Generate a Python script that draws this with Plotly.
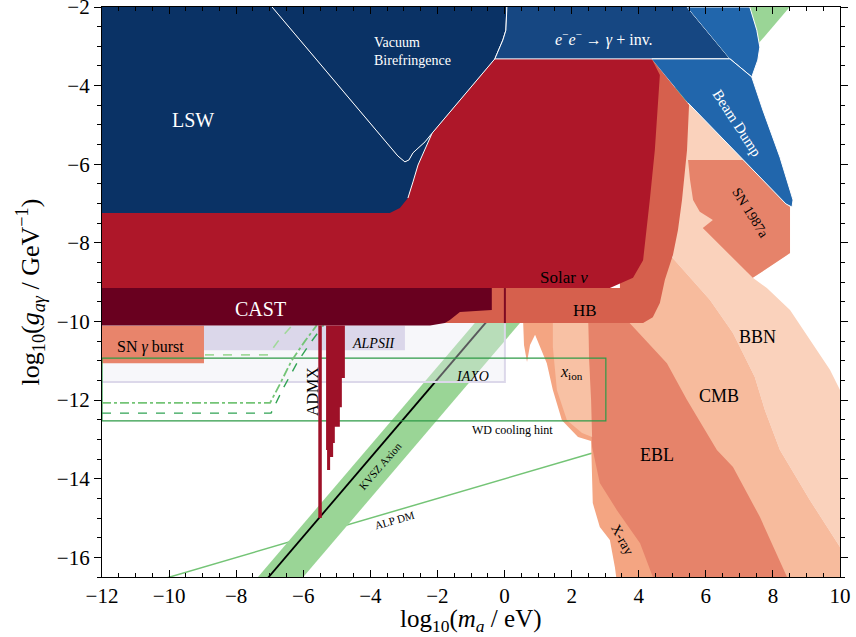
import plotly.graph_objects as go

# Axion-photon coupling limits: x = log10(m_a / eV), y = log10(g_agamma / GeV^-1)

# QCD axion band and model line
kvsz_band_m = [-7.45, 7.3, 8.7, -6.1]
kvsz_band_g = [-16.6, -1.85, -1.8, -16.6]
kvsz_line_m = [-7.1, 0.6]
kvsz_line_g = [-16.57, -8.87]

# ALP dark matter line
alpdm_m = [-10.1, 2.6]
alpdm_g = [-16.53, -13.35]

# Cosmological / astrophysical bounds
bbn_m = [5.41, 7.17, 8.51, 8.51, 7.40, 7.82, 8.51, 9.10, 9.70, 10.0, 10.6, 10.6, 10.0, 9.10, 8.21, 7.76, 7.46, 6.81, 6.12, 5.02, 4.87, 5.11, 5.35]
bbn_g = [-4.24, -5.89, -7.09, -8.26, -8.89, -9.15, -9.71, -10.47, -11.23, -11.74, -12.51, -16.58, -15.74, -14.54, -13.27, -12.25, -11.41, -10.29, -9.45, -8.39, -7.93, -6.91, -5.64]

cmb_m = [4.63, 5.02, 6.12, 6.81, 7.46, 7.76, 8.21, 9.10, 10.0, 10.6, 10.6, 5.82, 3.59, 4.04, 4.48]
cmb_g = [-7.93, -8.39, -9.45, -10.29, -11.41, -12.25, -13.27, -14.54, -15.74, -16.45, -17.09, -17.09, -10.04, -9.45, -8.44]

xray_m = [0.55, 0.58, 0.67, 0.76, 0.91, 1.06, 1.26, 1.44, 1.71, 2.19, 2.58, 2.63, 2.84, 3.14, 3.29, 3.38, 4.78, 2.84]
xray_g = [-9.91, -10.60, -11.03, -10.60, -10.34, -10.67, -11.06, -11.74, -12.51, -12.94, -13.04, -14.62, -15.23, -15.56, -16.25, -16.83, -16.83, -9.91]

ebl_m = [2.49, 2.55, 2.61, 2.84, 3.35, 4.04, 4.42, 4.48, 8.57, 8.42, 7.61, 6.81, 6.33, 5.44, 4.84, 3.59]
ebl_g = [-9.91, -12.0, -13.19, -14.11, -14.80, -15.64, -16.5, -16.83, -16.83, -16.5, -14.97, -13.70, -13.27, -12.0, -11.06, -9.91]

xion_m = [1.44, 1.44, 1.56, 1.86, 2.31, 2.61, 2.58, 2.52, 2.49]
xion_g = [-9.91, -10.65, -11.74, -12.51, -12.84, -12.94, -12.0, -10.98, -9.91]

sn1987a_m = [5.47, 7.11, 8.51, 8.51, 7.40, 6.03, 5.91, 6.21, 5.82, 5.62, 5.53]
sn1987a_g = [-5.89, -5.89, -7.09, -8.26, -8.89, -7.72, -7.62, -7.42, -7.21, -6.91, -6.40]

# Haloscope / helioscope / LSW projections
iaxo_m = [-12, 0.01, 0.01, -12]
iaxo_g = [-10.0, -10.0, -11.54, -11.54]
alpsii_m = [-12, -2.97, -2.97, -12]
alpsii_g = [-10.11, -10.11, -10.73, -10.73]
sngamma_m = [-12, -8.96, -8.96, -12]
sngamma_g = [-10.11, -10.11, -11.06, -11.06]
wd_m = [-12, 3.02, 3.02, -12, -12]
wd_g = [-10.93, -10.93, -12.53, -12.53, -10.93]

proj_a_m = [-12, -6.99, -6.7, -6.35, -5.95, -5.6]
proj_a_g = [-12.07, -12.07, -11.6, -11.0, -10.5, -10.1]
proj_b_m = [-12, -6.96, -6.6, -6.15, -5.75, -5.4]
proj_b_g = [-12.33, -12.33, -11.7, -11.0, -10.5, -10.1]
proj_c_m = [-8.93, -7.05, -6.75, -6.34]
proj_c_g = [-10.85, -10.85, -10.5, -10.11]

# Stellar and helioscope exclusions
hb_m = [-2.22, -2.22, 4.13, 4.42, 4.63, 4.78, 5.02, 5.17, 5.29, 5.44, 5.50, 4.39, 3.44, 3.44]
hb_g = [-9.15, -10.04, -10.04, -9.89, -9.53, -8.94, -8.31, -7.67, -6.91, -5.64, -4.49, -3.32, -3.32, -9.15]

solar_m = [-12, 3.14, 3.83, 4.13, 4.33, 4.48, 4.63, 4.39, -0.29, -2.16, -2.97, -12]
solar_g = [-9.15, -9.15, -8.89, -8.44, -6.91, -5.64, -3.73, -3.32, -3.32, -5.21, -6.66, -6.66]

cast_m = [-12, -0.38, -0.38, -1.33, -1.63, -1.78, -2.22, -12]
cast_g = [-9.15, -9.15, -9.71, -9.76, -9.96, -10.04, -10.10, -10.10]
cast_tail_m = [0.01, 0.01]
cast_tail_g = [-9.15, -10.04]

admx_m = [-5.32, -4.76, -4.76, -4.85, -4.85, -4.91, -4.91, -5.06, -5.06, -5.11, -5.11, -5.20, -5.20, -5.29, -5.29, -5.32]
admx_g = [-10.10, -10.10, -11.44, -11.44, -12.18, -12.18, -12.68, -12.68, -13.09, -13.09, -13.45, -13.45, -13.78, -13.78, -13.27, -13.27]
admx_line_m = [-5.50, -5.50]
admx_line_g = [-10.10, -15.0]

# Laboratory exclusions
lsw_m = [-12, -6.93, -3.18, -2.97, -2.85, -2.73, -2.37, -2.16, -2.37, -2.58, -2.73, -2.88, -3.12, -3.42, -12]
lsw_g = [-2, -2, -5.79, -5.94, -5.89, -5.71, -5.43, -5.21, -5.64, -6.02, -6.45, -6.86, -7.11, -7.24, -7.24]
lsw_edge_m = [-2.16, -2.37, -2.58, -2.73, -2.88]
lsw_edge_g = [-5.21, -5.64, -6.02, -6.45, -6.86]

vb_m = [-6.93, -3.18, -2.97, -2.85, -2.73, -2.37, -2.16, -0.29, -0.05, 0.04, 0.07]
vb_g = [-2, -5.79, -5.94, -5.89, -5.71, -5.43, -5.21, -3.32, -2.84, -2.59, -2]

ee_m = [0.07, 0.04, -0.05, -0.29, 6.72, 5.44]
ee_g = [-2, -2.59, -2.84, -3.32, -3.32, -2]

bd_upper_m = [5.44, 7.31, 7.52, 7.61, 7.55, 7.37, 6.72]
bd_upper_g = [-2, -2, -2.59, -3.02, -3.35, -3.78, -3.32]
bd_lower_m = [4.39, 6.72, 7.37, 7.70, 8.21, 8.60, 8.57, 8.39, 5.47]
bd_lower_g = [-3.32, -3.32, -3.78, -4.62, -5.82, -6.91, -7.09, -7.01, -4.44]

# Tick labels
x_ticks = [-12, -10, -8, -6, -4, -2, 0, 2, 4, 6, 8, 10]
y_ticks = [-16, -14, -12, -10, -8, -6, -4, -2]

SERIF = "Liberation Serif"
fig = go.Figure()


def region(m, g, color, edge=None, edge_w=1.0):
    fig.add_trace(go.Scatter(
        x=m, y=g, mode="lines", fill="toself", fillcolor=color,
        line=dict(color=edge if edge else color, width=edge_w if edge else 0),
        hoverinfo="skip", showlegend=False))


def curve(m, g, color, width, dash="solid"):
    fig.add_trace(go.Scatter(
        x=m, y=g, mode="lines", line=dict(color=color, width=width, dash=dash),
        hoverinfo="skip", showlegend=False))


curve(alpdm_m, alpdm_g, "#74c476", 1.5)
region(kvsz_band_m, kvsz_band_g, "#9ad596")
curve(kvsz_line_m, kvsz_line_g, "black", 1.8)

region(bbn_m, bbn_g, "#fad2bc")
region(cmb_m, cmb_g, "#f7bb9d")
region(xray_m, xray_g, "#f4a582")
region(ebl_m, ebl_g, "#e6836a")
region(xion_m, xion_g, "#f8c1a4")
region(sn1987a_m, sn1987a_g, "#e6836a")

region(iaxo_m, iaxo_g, "rgba(234,234,242,0.38)", edge="#dcd8ea", edge_w=2)
region(alpsii_m, alpsii_g, "rgba(200,193,224,0.6)")
region(sngamma_m, sngamma_g, "#e8846b")
curve(wd_m, wd_g, "#2e9a47", 1.2)

curve(proj_c_m, proj_c_g, "#a1d99b", 1.6, "dash")
curve(proj_a_m, proj_a_g, "#74c476", 1.8, "dashdot")
curve(proj_b_m, proj_b_g, "#31a354", 1.4, "dash")

region(hb_m, hb_g, "#d6604d")
region(solar_m, solar_g, "#ae1729")
region(cast_m, cast_g, "#69001f")
curve(cast_tail_m, cast_tail_g, "#7f0a23", 2)

region(admx_m, admx_g, "#9e1128")
curve(admx_line_m, admx_line_g, "#9e1128", 3.5)

region(lsw_m, lsw_g, "#0a3265")
curve(lsw_edge_m, lsw_edge_g, "white", 1)
region(vb_m, vb_g, "#0a3265", edge="white")
region(ee_m, ee_g, "#164782", edge="white")
region(bd_upper_m, bd_upper_g, "#2166ac", edge="white")
region(bd_lower_m, bd_lower_g, "#2166ac", edge="white")

labels = [
    # text, x, y, size, color, angle, anchor
    ("LSW", -9.29, -4.87, 20, "white", 0, "center"),
    ("Vacuum<br>Birefringence", -3.95, -3.14, 14, "white", 0, "left"),
    ("<i>e</i><sup>−</sup><i>e</i><sup>−</sup> → <i>γ</i> + inv.", 2.96, -2.79, 16, "white", 0, "center"),
    ("Beam Dump", 6.93, -4.95, 15, "white", 57, "center"),
    ("SN 1987a", 7.31, -7.24, 14, "black", 58, "center"),
    ("Solar <i>ν</i>", 1.77, -8.87, 17, "black", 0, "center"),
    ("HB", 2.40, -9.71, 17, "black", 0, "center"),
    ("BBN", 7.55, -10.39, 18, "black", 0, "center"),
    ("CMB", 6.39, -11.90, 18, "black", 0, "center"),
    ("EBL", 4.54, -13.40, 18, "black", 0, "center"),
    ("X-ray", 3.53, -15.56, 14, "black", 62, "center"),
    ("<i>x</i><sub>ion</sub>", 2.01, -11.31, 16, "black", 0, "center"),
    ("CAST", -7.29, -9.68, 20, "white", 0, "center"),
    ("SN <i>γ</i> burst", -10.54, -10.65, 16, "black", 0, "center"),
    ("<i>ALPSII</i>", -3.89, -10.55, 14, "black", 0, "center"),
    ("<i>IAXO</i>", -0.97, -11.41, 14, "black", 0, "center"),
    ("ADMX", -5.74, -11.77, 16, "black", -90, "center"),
    ("WD cooling hint", 0.25, -12.76, 12, "black", 0, "center"),
    ("KVSZ Axion", -3.71, -13.68, 11, "black", -49, "center"),
    ("ALP DM", -3.27, -15.05, 11, "black", -16, "center"),
]
for text, x, y, size, color, angle, anchor in labels:
    fig.add_annotation(x=x, y=y, xref="x", yref="y", text=text, showarrow=False,
                       textangle=angle, xanchor=anchor, yanchor="middle", align=anchor if anchor != "center" else "center",
                       font=dict(family=SERIF, size=size, color=color))

fig.add_annotation(x=0.5, y=-0.077, xref="paper", yref="paper",
                   text="log<sub>10</sub>(<i>m<sub>a</sub></i> / eV)", showarrow=False,
                   xanchor="center", yanchor="middle", font=dict(family=SERIF, size=25, color="black"))
fig.add_annotation(x=-0.097, y=0.5, xref="paper", yref="paper",
                   text="log<sub>10</sub>(<i>g<sub>aγ</sub></i> / GeV<sup>−1</sup>)", showarrow=False,
                   textangle=-90, xanchor="center", yanchor="middle",
                   font=dict(family=SERIF, size=26, color="black"))

axis_common = dict(showgrid=False, zeroline=False, showline=True, linecolor="black", linewidth=1.3,
                   mirror="ticks", tickcolor="black", tickwidth=1, ticklabeloverflow="allow",
                   automargin=False, tickfont=dict(family=SERIF, size=21, color="black"))

fig.update_xaxes(range=[-12, 10], tickvals=x_ticks, ticks="inside", ticklen=7,
                 minor=dict(dtick=0.5, ticks="inside", ticklen=4, tickcolor="black"),
                 **axis_common)
fig.update_yaxes(range=[-16.5, -2], tickvals=y_ticks, ticks="outside", ticklen=7,
                 minor=dict(dtick=0.5, ticks="outside", ticklen=4, tickcolor="black"),
                 **axis_common)

fig.update_layout(width=856, height=637, margin=dict(l=102, r=16, t=7, b=60, autoexpand=False),
                  plot_bgcolor="white", paper_bgcolor="white", showlegend=False)

fig.write_html("out.html")
